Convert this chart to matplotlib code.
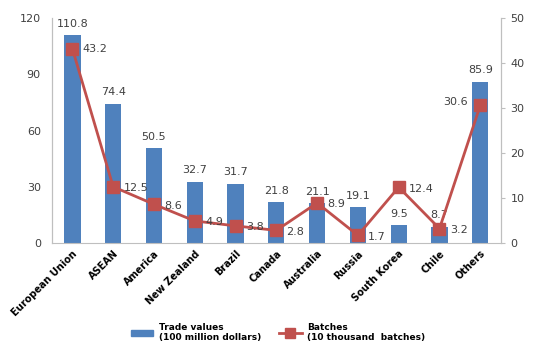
import matplotlib
matplotlib.use("Agg")
import matplotlib.pyplot as plt
import numpy as np
from matplotlib.patches import Patch
from matplotlib.lines import Line2D

categories = ["European Union", "ASEAN", "America", "New Zealand", "Brazil", "Canada",
              "Australia", "Russia", "South Korea", "Chile", "Others"]
trade_values = [110.8, 74.4, 50.5, 32.7, 31.7, 21.8, 21.1, 19.1, 9.5, 8.7, 85.9]
batches = [43.2, 12.5, 8.6, 4.9, 3.8, 2.8, 8.9, 1.7, 12.4, 3.2, 30.6]
left_ticks = [0, 30, 60, 90, 120]
right_ticks = [0, 10, 20, 30, 40, 50]

bar_color = "#4F81BD"
line_color = "#C0504D"
text_color = "#404040"
spine_color = "#BFBFBF"

fig = plt.figure(figsize=(5.56, 3.54), dpi=100)
ax = fig.add_axes([0.0935, 0.3136, 0.807, 0.6354])
ax2 = ax.twinx()

x = np.arange(len(categories))
ax.bar(x, trade_values, width=0.4, color=bar_color, zorder=2)
ax.set_xlim(-0.5, len(categories) - 0.5)
ax.set_ylim(0, 120)
ax.set_yticks(left_ticks)
ax.set_xticks(x)
ax.set_xticklabels(categories, rotation=45, ha="right", rotation_mode="anchor",
                   fontsize=7, fontweight="bold", color="black")
ax.tick_params(axis="x", length=0, pad=4)
ax.tick_params(axis="y", length=0, labelsize=8, colors=text_color, pad=8)

for xi, v in zip(x, trade_values):
    ax.text(xi, v + 3.5, f"{v}", ha="center", va="bottom", fontsize=8, color=text_color)

ax2.plot(x, batches, color=line_color, lw=2, marker="s", markersize=8, zorder=3)
ax2.set_ylim(0, 50)
ax2.set_yticks(right_ticks)
ax2.tick_params(axis="y", length=3, color=spine_color, labelsize=8, colors=text_color, pad=4)
ax2.tick_params(axis="y", color=spine_color)

for i, (xi, v) in enumerate(zip(x, batches)):
    if i == len(batches) - 1:
        ax2.text(xi - 0.3, v + 0.8, f"{v}", ha="right", va="center", fontsize=8, color=text_color)
    else:
        ax2.text(xi + 0.25, v - 0.3 if i else v, f"{v}", ha="left", va="center", fontsize=8, color=text_color)

for a in (ax, ax2):
    a.spines["top"].set_visible(False)
    for s in ("left", "right", "bottom"):
        a.spines[s].set_color(spine_color)
ax2.spines["bottom"].set_visible(False)

handles = [Patch(color=bar_color),
           Line2D([0], [0], color=line_color, lw=2, marker="s", markersize=7)]
labels = ["Trade values\n(100 million dollars)", "Batches\n(10 thousand  batches)"]
fig.legend(handles, labels, loc="center", bbox_to_anchor=(0.5, 0.06), ncol=2,
           frameon=False, prop={"size": 6.5, "weight": "bold"}, columnspacing=2,
           handlelength=2.5, handletextpad=0.6)

fig.savefig("out.png", dpi=100)
